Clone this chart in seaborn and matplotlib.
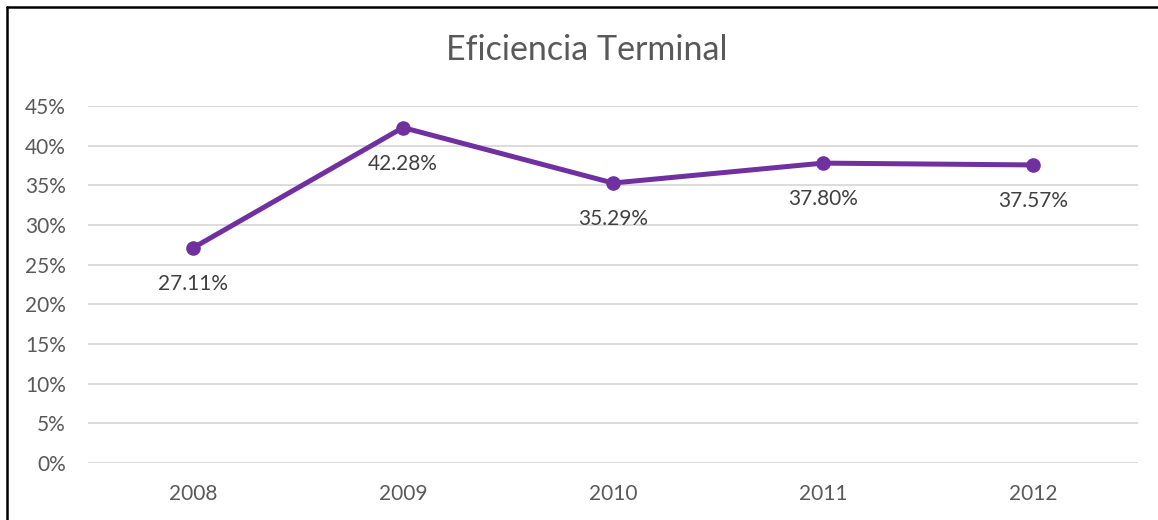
import matplotlib
matplotlib.use("Agg")
import matplotlib.pyplot as plt
from matplotlib.lines import Line2D
from matplotlib.ticker import FuncFormatter
import seaborn as sns
import pandas as pd

years = ["2008", "2009", "2010", "2011", "2012"]
eficiencia = [27.11, 42.28, 35.29, 37.80, 37.57]
yticks = [0, 5, 10, 15, 20, 25, 30, 35, 40, 45]
title = "Eficiencia Terminal"

sns.set_theme(style="white")
plt.rcParams["font.family"] = ["Lato", "DejaVu Sans"]

TXT = "#595959"
PURPLE = "#7030A0"
GRID = "#D9D9D9"

df = pd.DataFrame({"year": years, "value": eficiencia})

fig = plt.figure(figsize=(11.58, 5.2), dpi=100)
ax = fig.add_axes([88 / 1158, 1 - 463 / 520, (1138 - 88) / 1158, (463 - 106) / 520])

sns.lineplot(data=df, x="year", y="value", ax=ax, color=PURPLE, linewidth=3.6,
             marker="o", markersize=10.5, markeredgewidth=0, markeredgecolor=PURPLE,
             sort=False)

for y, v in zip(years, eficiencia):
    ax.annotate(f"{v:.2f}%", (y, v), xytext=(0, -26), textcoords="offset points",
                ha="center", va="center", fontsize=15, color="#404040")

ax.set_xlim(-0.5, len(years) - 0.5)
ax.set_ylim(0, 45)
ax.set_yticks(yticks)
ax.yaxis.set_major_formatter(FuncFormatter(lambda v, p: f"{v:.0f}%"))
ax.grid(axis="y", color=GRID, linewidth=1.3)
ax.grid(axis="x", visible=False)
ax.set_axisbelow(True)
for s in ax.spines.values():
    s.set_visible(False)
ax.tick_params(axis="both", length=0, labelsize=15, labelcolor=TXT)
ax.tick_params(axis="y", pad=16)
ax.tick_params(axis="x", pad=15)
ax.set_xlabel("")
ax.set_ylabel("")

fig.text(587 / 1158, 1 - 50 / 520, title, ha="center", va="center",
         fontsize=24.5, color=TXT)

# outer chart border (cropped on right and bottom)
fig.add_artist(Line2D([7 / 1158, 7 / 1158], [0, 1 - 7 / 520], transform=fig.transFigure,
                      color="black", linewidth=1.8))
fig.add_artist(Line2D([7 / 1158, 1], [1 - 7 / 520, 1 - 7 / 520], transform=fig.transFigure,
                      color="black", linewidth=1.8))

fig.savefig("out.png", dpi=100, facecolor="white")
